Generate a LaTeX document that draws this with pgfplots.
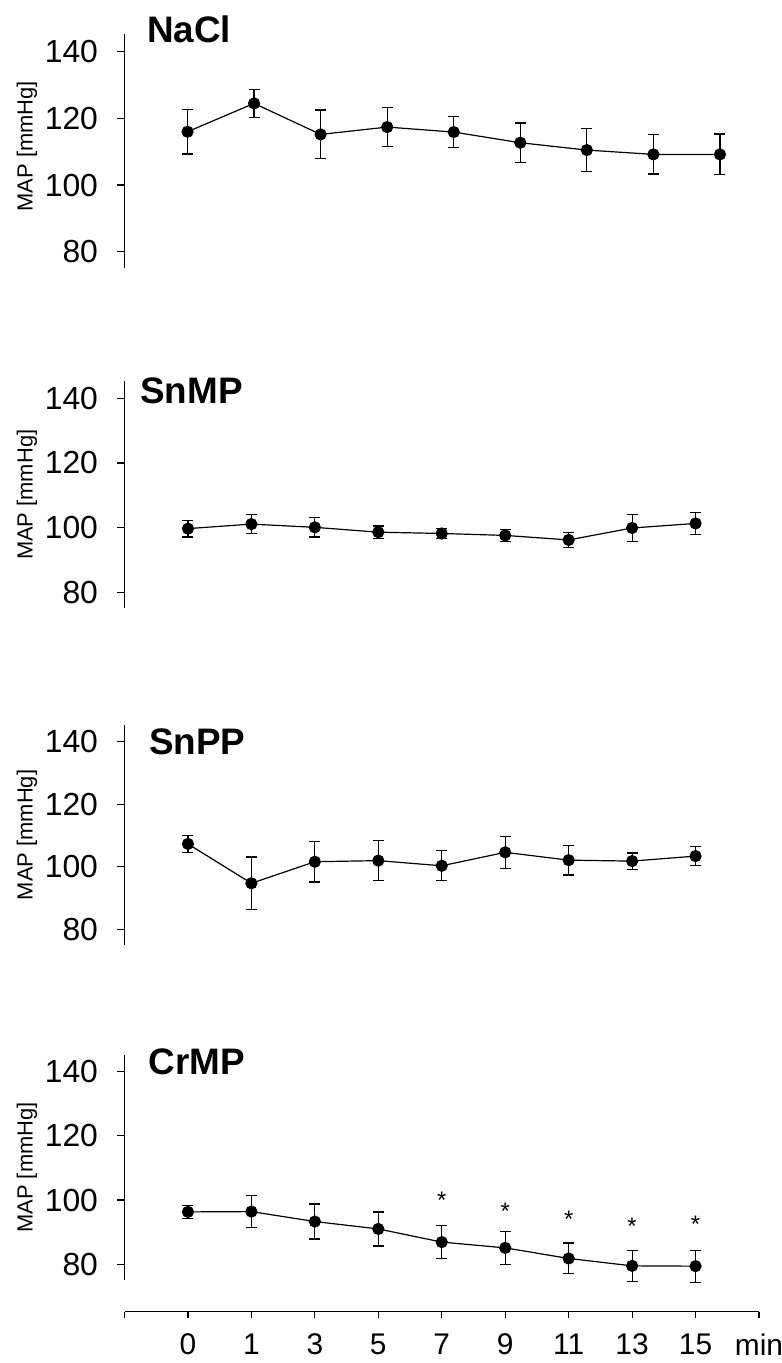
\documentclass[border=0pt]{standalone}
\usepackage{fontspec}
\setmainfont{Liberation Sans}
\usepackage{pgfplots}
\pgfplotsset{compat=1.18}
\usepackage{pgfplotstable}

\pgfplotstableread{
x y e
1 116.0 6.7
2 124.5 4.2
3 115.2 7.3
4 117.4 5.9
5 115.9 4.65
6 112.7 5.9
7 110.5 6.4
8 109.2 5.9
9 109.2 6.1
}\naclT
\pgfplotstableread{
x y e
1 99.7 2.6
2 101.1 2.9
3 100.1 3.0
4 98.6 1.9
5 98.2 1.55
6 97.6 1.9
7 96.2 2.3
8 99.9 4.2
9 101.3 3.3
}\snmpT
\pgfplotstableread{
x y e
1 107.3 2.7
2 94.7 8.4
3 101.6 6.5
4 101.95 6.4
5 100.3 4.8
6 104.6 5.1
7 102.1 4.75
8 101.8 2.6
9 103.4 3.0
}\snppT
\pgfplotstableread{
x y e
1 96.3 2.0
2 96.4 4.9
3 93.3 5.45
4 91.0 5.3
5 86.9 5.1
6 85.1 5.1
7 81.8 4.8
8 79.5 4.9
9 79.4 5.0
}\crmpT

\pgfplotsset{
  panel/.style={
    scale only axis, width=634.5bp, xmin=0, xmax=10, ymin=75, ymax=145.3,
    axis x line=none, axis y line*=left,
    ytick={80,100,120,140}, xtick=\empty,
    tick align=outside, major tick length=7bp,
    axis line style={line width=1.2bp, black},
    tick style={line width=1.2bp, black},
    yticklabel style={font=\fontsize{32}{36}\selectfont},
    yticklabel shift=16bp,
    /pgf/number format/assume math mode=true,
    clip=false,
  },
  series/.style={black, line width=1.2bp, mark=*, mark size=5.5bp,
    mark options={solid, fill=black},
    error bars/.cd, y dir=both, y explicit,
    error bar style={line width=1.2bp, black},
    error mark options={rotate=90, mark size=5.5bp, line width=1.2bp, black}},
}
\tikzset{
  ttl/.style={anchor=west, inner sep=0pt, font=\bfseries\fontsize{37}{42}\selectfont},
  ylab/.style={rotate=90, anchor=center, inner sep=0pt, font=\fontsize{22}{26}\selectfont},
}

\begin{document}
\begin{tikzpicture}
\useasboundingbox (0,0) rectangle (782bp,1363bp);

% NaCl
\begin{axis}[panel, at={(124.5bp,1094.6bp)}, anchor=south west, height=234.3bp,
  xmin=0.053, xmax=9.587]
\addplot+[series] table[x=x, y=y, y error=e] {\naclT};
\node[ttl] at ([xshift=22.5bp, yshift=4.5bp]rel axis cs:0,1) {NaCl};
\node[ylab] at ([xshift=-97.5bp, yshift=5bp]rel axis cs:0,0.5) {MAP [mmHg]};
\end{axis}

% SnMP
\begin{axis}[panel, at={(124.5bp,754.5bp)}, anchor=south west, height=227.3bp]
\addplot+[series] table[x=x, y=y, y error=e] {\snmpT};
\node[ttl] at ([xshift=15.5bp, yshift=-9.3bp]rel axis cs:0,1) {SnMP};
\node[ylab] at ([xshift=-97.5bp]rel axis cs:0,0.5) {MAP [mmHg]};
\end{axis}

% SnPP
\begin{axis}[panel, at={(124.5bp,418.1bp)}, anchor=south west, height=219.8bp]
\addplot+[series] table[x=x, y=y, y error=e] {\snppT};
\node[ttl] at ([xshift=24.5bp, yshift=-16.5bp]rel axis cs:0,1) {SnPP};
\node[ylab] at ([xshift=-97.5bp]rel axis cs:0,0.5) {MAP [mmHg]};
\end{axis}

% CrMP
\begin{axis}[panel, at={(124.5bp,82.7bp)}, anchor=south west, height=225.7bp]
\addplot+[series] table[x=x, y=y, y error=e] {\crmpT};
\addplot[draw=none, mark=none, nodes near coords={*},
  every node near coord/.append style={anchor=center, inner sep=0pt,
    font=\fontsize{24}{28}\selectfont, black}]
  coordinates {(5,100.0) (6,96.4) (7,94.0) (8,91.8) (9,92.4)};
\node[ttl] at ([xshift=24bp, yshift=-7bp]rel axis cs:0,1) {CrMP};
\node[ylab] at ([xshift=-97.5bp]rel axis cs:0,0.5) {MAP [mmHg]};
\end{axis}

% bottom time axis
\begin{axis}[at={(124.5bp,51.5bp)}, anchor=south west, scale only axis,
  width=634.5bp, height=10bp, xmin=0, xmax=10, ymin=0, ymax=1,
  axis x line*=bottom, axis y line=none,
  xtick={0,1,2,3,4,5,6,7,8,9,10},
  xticklabels={{},0,1,3,5,7,9,11,13,15,min},
  tick align=outside, major tick length=6bp,
  axis line style={line width=1.2bp, black},
  tick style={line width=1.2bp, black},
  xticklabel style={font=\fontsize{30}{34}\selectfont},
  xticklabel shift=13bp,
  /pgf/number format/assume math mode=true]
\addplot[draw=none, mark=none] coordinates {(0,0) (10,0)};
\end{axis}
\end{tikzpicture}
\end{document}
